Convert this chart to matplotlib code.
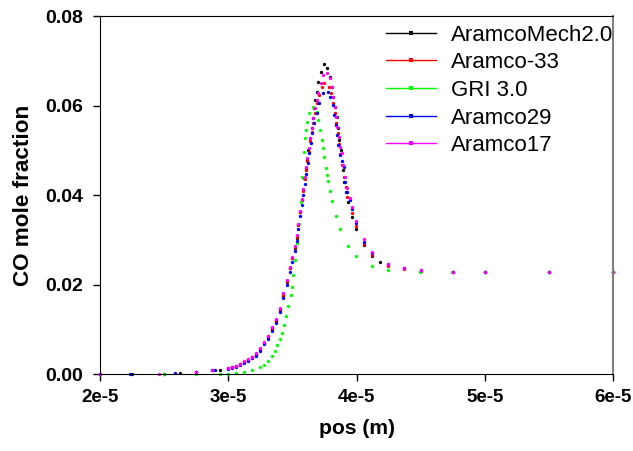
import matplotlib
matplotlib.use('Agg')
import matplotlib.pyplot as plt
from matplotlib.lines import Line2D
import numpy as np

plt.rcParams['font.family'] = ['Liberation Sans', 'DejaVu Sans']

# positions in units of 1e-5 m
x_mech2 = [2.0, 2.25, 2.5, 2.625, 2.75, 2.875, 2.9375, 3.0, 3.03, 3.06, 3.09, 3.12, 3.155, 3.185,
           3.215, 3.25, 3.28, 3.31, 3.34, 3.37, 3.40, 3.43, 3.455, 3.48, 3.50, 3.52, 3.533, 3.545,
           3.559, 3.572, 3.585, 3.593, 3.604, 3.612, 3.624, 3.637, 3.651, 3.658, 3.669, 3.676,
           3.690, 3.702, 3.721, 3.747, 3.772, 3.793, 3.807, 3.819, 3.832, 3.846, 3.858, 3.866,
           3.877, 3.892, 3.905, 3.918, 3.931, 3.965, 3.994, 4.058, 4.121, 4.183, 4.246, 4.370,
           4.5, 4.75, 5.0, 5.5, 6.0]
y_mech2 = [0.0, 0.0, 0.0001, 0.0002, 0.0004, 0.0008, 0.0010, 0.0013, 0.0015, 0.0018, 0.0022,
           0.0026, 0.0031, 0.0037, 0.0042, 0.0055, 0.0069, 0.0082, 0.0100, 0.0118, 0.0143,
           0.0175, 0.0205, 0.0236, 0.0259, 0.0281, 0.0305, 0.0333, 0.0363, 0.0389, 0.0411,
           0.0437, 0.0460, 0.0478, 0.0500, 0.0527, 0.0549, 0.0571, 0.0594, 0.0612, 0.0631,
           0.0653, 0.0676, 0.0693, 0.0683, 0.0664, 0.0642, 0.0620, 0.0597, 0.0575, 0.0549,
           0.0523, 0.0500, 0.0456, 0.0430, 0.0406, 0.0384, 0.0350, 0.0324, 0.0288, 0.0263,
           0.0251, 0.0244, 0.0236, 0.0231, 0.0228, 0.0228, 0.0228, 0.0228]

x_a33 = [2.0, 2.5, 2.75, 3.0, 3.03, 3.06, 3.09, 3.12, 3.155, 3.185, 3.215, 3.25, 3.28, 3.31,
         3.34, 3.37, 3.40, 3.43, 3.455, 3.48, 3.50, 3.52, 3.533, 3.545, 3.559, 3.572, 3.585,
         3.596, 3.606, 3.616, 3.628, 3.640, 3.652, 3.664, 3.676, 3.690, 3.708, 3.728, 3.750,
         3.784, 3.802, 3.815, 3.829, 3.842, 3.852, 3.862, 3.873, 3.886, 3.902, 3.915, 3.928,
         3.965, 3.994, 4.058, 4.121, 4.246, 4.370, 4.5, 4.75, 5.0, 5.5, 6.0]
y_a33 = [0.0, 0.0001, 0.0004, 0.0013, 0.0015, 0.0018, 0.0022, 0.0026, 0.0032, 0.0038, 0.0044,
         0.0056, 0.0070, 0.0084, 0.0102, 0.0120, 0.0145, 0.0177, 0.0207, 0.0237, 0.0260,
         0.0283, 0.0307, 0.0334, 0.0363, 0.0388, 0.0410, 0.0435, 0.0457, 0.0476, 0.0497,
         0.0520, 0.0541, 0.0562, 0.0583, 0.0605, 0.0623, 0.0642, 0.0650, 0.0642, 0.0627,
         0.0605, 0.0583, 0.0560, 0.0538, 0.0515, 0.0492, 0.0468, 0.0440, 0.0417, 0.0396,
         0.0359, 0.0330, 0.0290, 0.0266, 0.0241, 0.0235, 0.0230, 0.0227, 0.0227, 0.0227, 0.0227]

x_gri = [2.0, 2.5, 2.75, 2.9375, 3.0, 3.06, 3.123, 3.185, 3.248, 3.279, 3.31, 3.341, 3.362,
         3.382, 3.404, 3.419, 3.435, 3.450, 3.468, 3.487, 3.497, 3.507, 3.520, 3.535, 3.550,
         3.565, 3.578, 3.591, 3.598, 3.606, 3.616, 3.632, 3.663, 3.690, 3.702, 3.715, 3.729,
         3.736, 3.749, 3.762, 3.772, 3.780, 3.793, 3.809, 3.840, 3.871, 3.934, 3.996, 4.121,
         4.246, 4.495, 4.745, 5.0, 5.5, 6.0]
y_gri = [0.0, 0.0, 0.0, 0.0001, 0.0001, 0.0003, 0.0005, 0.0009, 0.0015, 0.0020, 0.0030, 0.0040,
         0.0052, 0.0065, 0.0078, 0.0092, 0.0109, 0.0130, 0.0153, 0.0177, 0.0195, 0.0222,
         0.0255, 0.0292, 0.0335, 0.0385, 0.0440, 0.0495, 0.0527, 0.0545, 0.0564, 0.0583,
         0.0596, 0.0586, 0.0568, 0.0545, 0.0523, 0.0505, 0.0486, 0.0460, 0.0445, 0.0432,
         0.0409, 0.0387, 0.0352, 0.0324, 0.0287, 0.0264, 0.0242, 0.0232, 0.0227, 0.0227,
         0.0227, 0.0227, 0.0227]

x_a29 = [2.0, 2.23, 2.585, 2.75, 2.9, 3.0, 3.03, 3.06, 3.09, 3.12, 3.155, 3.185, 3.215, 3.25,
         3.28, 3.31, 3.34, 3.37, 3.40, 3.43, 3.455, 3.48, 3.50, 3.52, 3.533, 3.545, 3.559,
         3.572, 3.585, 3.596, 3.608, 3.620, 3.632, 3.643, 3.656, 3.669, 3.690, 3.709, 3.735,
         3.778, 3.797, 3.813, 3.825, 3.838, 3.848, 3.859, 3.872, 3.885, 3.902, 3.910, 3.928,
         3.949, 3.965, 3.996, 4.056, 4.118, 4.246, 4.370, 4.5, 4.75, 5.0, 5.5, 6.0]
y_a29 = [0.0, 0.0, 0.0002, 0.0004, 0.0008, 0.0011, 0.0013, 0.0016, 0.0020, 0.0024, 0.0029,
         0.0035, 0.0040, 0.0052, 0.0066, 0.0079, 0.0097, 0.0114, 0.0138, 0.0169, 0.0198,
         0.0228, 0.0251, 0.0274, 0.0297, 0.0324, 0.0353, 0.0378, 0.0401, 0.0425, 0.0448,
         0.0471, 0.0493, 0.0516, 0.0538, 0.0560, 0.0583, 0.0605, 0.0627, 0.0631, 0.0620,
         0.0601, 0.0579, 0.0556, 0.0534, 0.0512, 0.0490, 0.0476, 0.0463, 0.0430, 0.0407,
         0.0389, 0.0368, 0.0338, 0.0296, 0.0270, 0.0245, 0.0237, 0.0232, 0.0229, 0.0229,
         0.0229, 0.0229]

x_a17 = [2.0, 2.46, 2.75, 2.875, 3.0, 3.03, 3.06, 3.09, 3.12, 3.155, 3.185, 3.215, 3.25, 3.28,
         3.31, 3.34, 3.37, 3.40, 3.43, 3.455, 3.48, 3.50, 3.52, 3.533, 3.545, 3.559, 3.572,
         3.585, 3.596, 3.606, 3.616, 3.628, 3.640, 3.652, 3.664, 3.676, 3.690, 3.702, 3.721,
         3.741, 3.770, 3.794, 3.807, 3.820, 3.833, 3.841, 3.851, 3.860, 3.870, 3.883, 3.895,
         3.908, 3.926, 3.947, 3.962, 3.994, 4.056, 4.118, 4.246, 4.370, 4.5, 4.75, 5.0, 5.5, 6.0]
y_a17 = [0.0, 0.0001, 0.0004, 0.0008, 0.0013, 0.0016, 0.0019, 0.0023, 0.0028, 0.0033, 0.0039,
         0.0046, 0.0058, 0.0072, 0.0086, 0.0104, 0.0123, 0.0148, 0.0180, 0.0210, 0.0240,
         0.0262, 0.0286, 0.0310, 0.0336, 0.0365, 0.0390, 0.0414, 0.0440, 0.0462, 0.0482,
         0.0505, 0.0528, 0.0550, 0.0572, 0.0594, 0.0612, 0.0627, 0.0650, 0.0668, 0.0673,
         0.0661, 0.0642, 0.0620, 0.0597, 0.0575, 0.0553, 0.0530, 0.0508, 0.0493, 0.0467,
         0.0440, 0.0415, 0.0393, 0.0373, 0.0343, 0.0301, 0.0273, 0.0246, 0.0236, 0.0232,
         0.0227, 0.0227, 0.0227, 0.0227]

labels = ['AramcoMech2.0', 'Aramco-33', 'GRI 3.0', 'Aramco29', 'Aramco17']
colors = ['black', '#ff0000', '#00ff00', '#0000ff', '#ff00ff']
series = [(x_mech2, y_mech2), (x_a33, y_a33), (x_gri, y_gri), (x_a29, y_a29), (x_a17, y_a17)]

xticks = [2e-5, 3e-5, 4e-5, 5e-5, 6e-5]
xticklabels = ['2e-5', '3e-5', '4e-5', '5e-5', '6e-5']
yticks = [0.0, 0.02, 0.04, 0.06, 0.08]
yticklabels = ['0.00', '0.02', '0.04', '0.06', '0.08']

fig = plt.figure(figsize=(6.33, 4.51), dpi=100)
ax = fig.add_axes([0.158, 0.1707, 0.8104, 0.7938])

handles = []
for (xs, ys), c, lab in zip(series, colors, labels):
    ax.plot(np.array(xs) * 1e-5, ys, linestyle='none', marker='o', markersize=2.4,
            markeredgewidth=0, color=c, clip_on=False)
    handles.append(Line2D([], [], color=c, linewidth=1.0, marker='s', markersize=2.2,
                          markeredgewidth=0, label=lab))

ax.set_xlim(2e-5, 6e-5)
ax.set_ylim(0, 0.08)
ax.set_xticks(xticks)
ax.set_xticklabels(xticklabels, fontsize=13.5, fontweight='bold')
ax.set_yticks(yticks)
ax.set_yticklabels(yticklabels, fontsize=14, fontweight='bold')
ax.tick_params(direction='out', length=5, width=1)
ax.tick_params(axis='y', pad=7)
ax.tick_params(axis='x', pad=6)
ax.spines['right'].set_color('#808080')
ax.spines['right'].set_linewidth(1.5)

ax.set_xlabel('pos (m)', fontsize=15.2, fontweight='bold', labelpad=9)
ax.set_ylabel('CO mole fraction', fontsize=16.2, fontweight='bold', labelpad=8)

ax.legend(handles=handles, loc='upper right', bbox_to_anchor=(1.0, 0.976), frameon=False,
          fontsize=16, handlelength=2.25, handletextpad=0.68, labelspacing=0.3,
          borderaxespad=0.0, borderpad=0.0)

fig.savefig('out.png', dpi=100)
